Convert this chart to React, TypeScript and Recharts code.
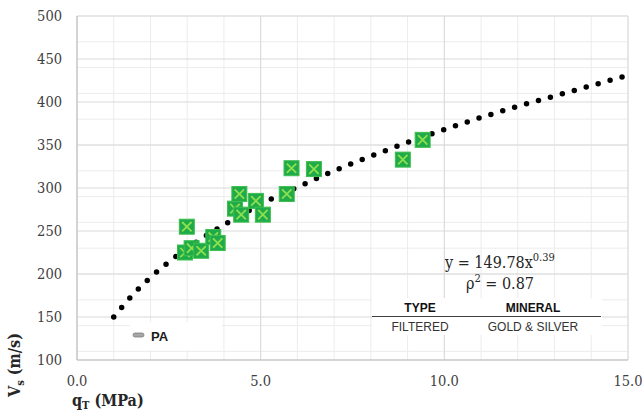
import {
  ComposedChart,
  Scatter,
  Line,
  XAxis,
  YAxis,
  CartesianGrid,
} from "recharts";

// measured points: cone tip resistance (MPa) vs shear wave velocity (m/s)
const qt = [2.94, 2.99, 3.12, 3.38, 3.71, 3.83, 4.3, 4.42, 4.47, 4.87, 5.06, 5.71, 5.84, 6.45, 8.87, 9.41];
const vs = [225, 255, 230, 227, 243, 236, 276, 293, 269, 285, 269, 293, 323, 322, 333, 356];

// power trend line
const fitQt = [1, 1.5, 2, 2.5, 3, 4, 5, 6, 7, 8, 9, 10, 11, 12, 13, 14, 15];
const fitVs = [150, 175, 196, 214, 230, 257, 281, 301, 320, 337, 353, 368, 382, 395, 407, 419, 431];

const xTicks = [0, 5, 10, 15];
const yTicks = [100, 150, 200, 250, 300, 350, 400, 450, 500];
const xMinor = Array.from({ length: 31 }, (_, i) => i * 0.5);
const yMinor = Array.from({ length: 41 }, (_, i) => 100 + i * 10);

const points = qt.map((x, i) => ({ qt: x, vs: vs[i] }));
const fit = fitQt.map((x, i) => ({ qt: x, vs: fitVs[i] }));

const serif = "'DejaVu Serif Condensed', 'DejaVu Serif', serif";
const sans = "'Liberation Sans Narrow', 'Liberation Sans', Arial, sans-serif";

const Marker = (props: any) => {
  const { cx, cy } = props;
  const h = 7.5;
  const d = 2.8;
  return (
    <g>
      <rect x={cx - h} y={cy - h} width={2 * h} height={2 * h} fill="#20ab4a" stroke="#3dbf4c" strokeWidth={1} />
      <path
        d={`M${cx - h + d} ${cy - h + d} L${cx + h - d} ${cy + h - d} M${cx + h - d} ${cy - h + d} L${cx - h + d} ${cy + h - d}`}
        stroke="#8ddf4e"
        strokeWidth={1.8}
      />
    </g>
  );
};

export default function App() {
  return (
    <div style={{ position: "absolute", left: 0, top: 0, width: 642, height: 412, background: "#fff" }}>
      <ComposedChart width={642} height={412} margin={{ top: 16, right: 14, left: 17, bottom: 22 }}>
        <CartesianGrid stroke="#ececec" horizontalValues={yMinor} verticalValues={xMinor} />
        <CartesianGrid stroke="#d9d9d9" horizontalValues={yTicks} verticalValues={xTicks} />
        <XAxis
          type="number"
          dataKey="qt"
          domain={[0, 15]}
          ticks={xTicks}
          tickFormatter={(v: number) => v.toFixed(1)}
          tickLine={false}
          tickSize={0}
          tickMargin={16}
          height={30}
          axisLine={{ stroke: "#bfbfbf" }}
          tick={{ fill: "#404040", fontFamily: serif, fontSize: 14.5 }}
          allowDataOverflow
        />
        <YAxis
          type="number"
          dataKey="vs"
          domain={[100, 500]}
          ticks={yTicks}
          tickLine={false}
          tickSize={0}
          tickMargin={15}
          width={60}
          axisLine={{ stroke: "#bfbfbf" }}
          tick={{ fill: "#404040", fontFamily: serif, fontSize: 14.5 }}
          allowDataOverflow
        />
        <Scatter data={points} dataKey="vs" shape={<Marker />} isAnimationActive={false} />
        <Line
          data={fit}
          dataKey="vs"
          type="monotone"
          stroke="#000"
          strokeWidth={5.5}
          strokeLinecap="round"
          strokeDasharray="0 12.4"
          dot={false}
          activeDot={false}
          isAnimationActive={false}
        />
      </ComposedChart>
      <svg width={642} height={412} style={{ position: "absolute", left: 0, top: 0, pointerEvents: "none" }}>
        {/* axis titles */}
        <text
          x={0}
          y={0}
          transform="translate(20 397) rotate(-90)"
          fontFamily={serif}
          fontWeight="bold"
          fontSize={16}
          fill="#262626"
        >
          V<tspan fontSize={11} dy={4}>s</tspan>
          <tspan dy={-4}> (m/s)</tspan>
        </text>
        <text x={72} y={406} fontFamily={serif} fontWeight="bold" fontSize={16} fill="#262626">
          q<tspan fontSize={11} dy={3}>T</tspan>
          <tspan dy={-3}> (MPa)</tspan>
        </text>

        {/* trend equation */}
        <text x={445} y={268} fontFamily={serif} fontSize={16} fill="#262626">
          y = 149.78x<tspan fontSize={11} dy={-7}>0.39</tspan>
        </text>
        <text x={500} y={289} textAnchor="middle" fontFamily={serif} fontSize={16} fill="#262626">
          ρ<tspan fontSize={11} dy={-7}>2</tspan>
          <tspan dy={7}> = 0.87</tspan>
        </text>

        {/* series key */}
        <rect x={130} y={322} width={92} height={28} fill="#fff" />
        <rect x={133} y={333} width={11} height={4} rx={2} fill="#a6a6a6" stroke="#7f7f7f" strokeWidth={0.8} />
        <text x={151} y={341} fontFamily="'Liberation Sans', Arial, sans-serif" fontWeight="bold" fontSize={13} fill="#1a1a1a">
          PA
        </text>

        {/* type / mineral table */}
        <rect x={372} y={298} width={230} height={37} fill="#fff" />
        <text x={420} y={312} textAnchor="middle" fontFamily={sans} fontWeight="bold" fontSize={12} fill="#111">
          TYPE
        </text>
        <text x={533} y={312} textAnchor="middle" fontFamily={sans} fontWeight="bold" fontSize={12} fill="#111">
          MINERAL
        </text>
        <line x1={372} y1={316.5} x2={601} y2={316.5} stroke="#404040" strokeWidth={1} />
        <text x={420} y={331} textAnchor="middle" fontFamily={sans} fontSize={12} fill="#333">
          FILTERED
        </text>
        <text x={533} y={331} textAnchor="middle" fontFamily={sans} fontSize={12} fill="#333">
          GOLD &amp; SILVER
        </text>
      </svg>
    </div>
  );
}
